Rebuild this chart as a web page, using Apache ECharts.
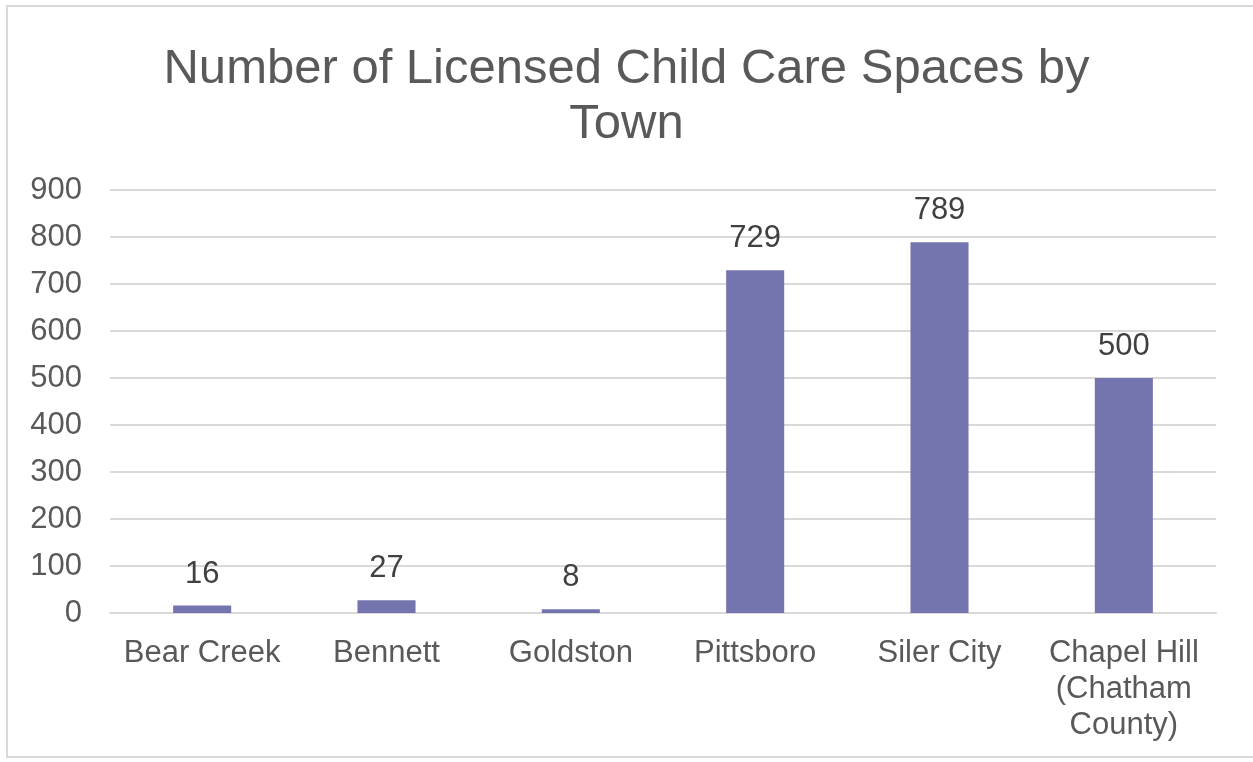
<!DOCTYPE html>
<html>
<head>
<meta charset="utf-8">
<script src="https://cdn.jsdelivr.net/npm/echarts@6/dist/echarts.min.js"></script>
<style>
  html,body{margin:0;padding:0;background:#fff;}
  #main{width:1253px;height:762px;}
</style>
</head>
<body>
<div id="main"></div>
<script>
var towns = ['Bear Creek', 'Bennett', 'Goldston', 'Pittsboro', 'Siler City', 'Chapel Hill\n(Chatham\nCounty)'];
var spaces = [16, 27, 8, 729, 789, 500];
var yTicks = [0, 900, 100]; // min, max, step

var myChart = echarts.init(document.getElementById('main'));
var option = {
  backgroundColor: '#fff',
  textStyle: {
    fontFamily: 'Liberation Sans, Arial, sans-serif'
  },
  title: {
    text: 'Number of Licensed Child Care Spaces by\nTown',
    left: 'center',
    top: 37,
    textStyle: {
      color: '#595959',
      fontSize: 49,
      fontWeight: 'normal',
      lineHeight: 55
    }
  },
  graphic: [{
    type: 'rect',
    shape: { x: 7, y: 6, width: 1260, height: 751 },
    style: { fill: 'none', stroke: '#d9d9d9', lineWidth: 2 },
    silent: true
  }],
  grid: {
    left: 110,
    right: 37,
    top: 190,
    bottom: 149
  },
  xAxis: {
    type: 'category',
    data: towns,
    axisLine: { lineStyle: { color: '#d9d9d9', width: 2 } },
    axisTick: { show: false },
    axisLabel: {
      color: '#595959',
      fontSize: 31,
      lineHeight: 36,
      margin: 22,
      interval: 0
    }
  },
  yAxis: {
    type: 'value',
    min: yTicks[0],
    max: yTicks[1],
    interval: yTicks[2],
    axisLine: { show: false },
    axisTick: { show: false },
    axisLabel: {
      color: '#595959',
      fontSize: 31,
      margin: 28
    },
    splitLine: { lineStyle: { color: '#d9d9d9', width: 2 } }
  },
  series: [{
    name: 'Spaces',
    type: 'bar',
    data: spaces,
    barWidth: '31.5%',
    itemStyle: { color: '#7474af' },
    label: {
      show: true,
      position: 'top',
      distance: 16,
      color: '#404040',
      fontSize: 31
    }
  }]
};
myChart.setOption(option);
</script>
</body>
</html>
